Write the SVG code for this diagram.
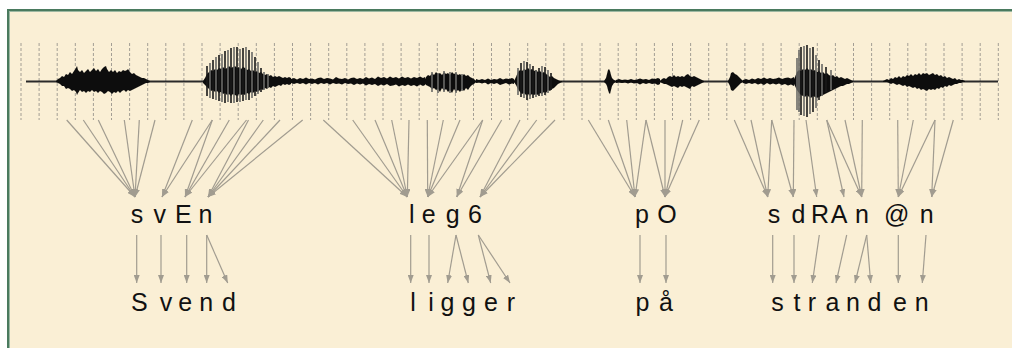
<svg xmlns="http://www.w3.org/2000/svg" width="1012" height="348" viewBox="0 0 1012 348">
<defs>
<style>
.lbl{font-family:"Liberation Sans",Arial,sans-serif;font-size:25px;fill:#111;text-anchor:middle}
.dash{stroke:#a39e94;stroke-width:1;stroke-dasharray:3,2;fill:none}
.conn line{stroke:#a19c90;stroke-width:1.2;marker-end:url(#ah)}
.wf{fill:#111}
.vs{stroke:#1a1a1a;stroke-width:1.6}
.vg{stroke:#6a6a66;stroke-width:1.6}
</style>
<marker id="ah" viewBox="0 0 8 6" refX="8" refY="3" markerWidth="8" markerHeight="6" markerUnits="userSpaceOnUse" orient="auto">
<path d="M0,0 L8,3 L0,6 z" fill="#a19c90"/>
</marker>
<filter id="soft" x="-5%" y="-20%" width="110%" height="140%"><feGaussianBlur stdDeviation="0.45"/></filter>
</defs>
<rect x="0" y="0" width="1012" height="348" fill="#fff"/>
<rect x="7" y="9" width="1020" height="360" fill="#faefd5"/>
<rect x="7" y="9" width="2" height="360" fill="#4a7a5e"/>
<rect x="9" y="11" width="1" height="360" fill="#9db8a2"/>
<rect x="7" y="9" width="1020" height="2" fill="#4a7a5e"/>
<rect x="9" y="11" width="1020" height="1" fill="#9db8a2"/>

<g id="frames">
<path class="dash" d="M21,43V120M39.1,43V120M57.2,43V120M75.3,43V120M93.4,43V120M111.5,43V120M129.6,43V120M147.7,43V120M165.8,43V120M183.9,43V120M202,43V120M220.1,43V120M238.2,43V120M256.3,43V120M274.4,43V120M292.5,43V120M310.6,43V120M328.7,43V120M346.8,43V120M364.9,43V120M383,43V120M401.1,43V120M419.2,43V120M437.3,43V120M455.4,43V120M473.5,43V120M491.5,43V120M509.6,43V120M527.7,43V120M545.8,43V120M563.9,43V120M582,43V120M600.1,43V120M618.2,43V120M636.3,43V120M654.4,43V120M672.5,43V120M690.6,43V120M708.7,43V120M726.8,43V120M744.9,43V120M763,43V120M781.1,43V120M799.2,43V120M817.3,43V120M835.4,43V120M853.5,43V120M871.6,43V120M889.7,43V120M907.8,43V120M925.9,43V120M944,43V120M962.1,43V120M980.2,43V120M998.3,43V120"/>
</g>

<g id="waveform" filter="url(#soft)">
<line x1="26" y1="81.5" x2="998" y2="81.5" stroke="#2a2a2a" stroke-width="2"/>
<polygon class="wf" points="56,81 58,79 60,78 62,76 64,77 66,74 68,75 70,72 72,74 74,71 76,68 77,66 78,70 80,72 82,70 84,73 86,71 88,69 90,72 92,70 94,68 96,71 98,69 100,72 102,69 104,67 106,66 107,69 109,72 111,70 113,72 115,70 117,73 119,71 121,72 123,70 125,71 127,70 128,69 130,72 132,74 134,73 136,75 138,76 140,77 142,78 144,78 146,79 148,80 150,81 150,82 148,83 146,83 144,84 142,85 140,86 138,87 136,88 134,89 132,90 130,91 128,90 126,92 124,90 122,91 120,93 118,91 116,93 114,92 112,94 110,92 108,91 106,93 104,94 102,92 100,91 98,93 96,91 94,92 92,90 90,92 88,91 86,93 84,91 82,92 80,90 78,93 77,95 76,92 74,90 72,91 70,89 68,88 66,89 64,86 62,86 60,84 58,83 56,82"/>
<polygon class="wf" points="203,81 205,78 207,74 209,72 211,70 213,71 215,69 217,70 219,68 221,69 223,67 225,69 227,68 229,66 231,68 233,67 235,66 237,68 239,67 241,69 243,67 245,68 247,70 249,69 251,71 253,70 255,72 257,71 259,73 261,72 263,74 265,75 267,74 269,76 271,75 273,77 275,76 277,77 279,76 281,77 283,78 285,77 287,78 289,77 291,78 291,84 289,85 287,84 285,85 283,84 281,86 279,85 277,86 275,87 273,86 271,88 269,87 267,89 265,88 263,90 261,89 259,91 257,92 255,91 253,93 251,92 249,94 247,93 245,95 243,94 241,95 239,94 237,96 235,95 233,94 231,96 229,94 227,95 225,93 223,94 221,92 219,93 217,91 215,92 213,90 211,91 209,89 207,87 205,85 203,83"/>
<path class="vs" d="M207,66V96M213,60V99M219,55V101M225,51V103M231,48V103M237,47V102M243,48V101M249,50V100M255,57V96M261,68V92"/>
<path class="vg" d="M210,63V98M216,57V100M222,54V102M228,50V102M234,47V103M240,49V102M246,47V100M252,52V98M258,62V94M264,72V90M268,74V88"/>
<polygon class="wf" points="291,79 294,78 297,79.5 300,78 303,79 306,77.5 309,79 312,78.5 315,79.5 318,78 321,77.5 324,79 327,78 330,78.5 333,79.5 336,77 339,78.5 342,79 345,78 348,79.5 351,78 354,77.5 357,79 360,78 363,79 366,77 369,78.5 372,77.5 375,79 378,76.5 381,78 384,77 387,78.5 390,76.5 393,78 396,77 399,78.5 402,76.5 405,78 408,77 411,78.5 414,77 417,78 420,76.5 423,78 425,77 425,85 423,86 420,84.5 417,86.5 414,85 411,86 408,84.5 405,86 402,85 399,86.5 396,84.5 393,85.5 390,86 387,84 384,85.5 381,84.5 378,86 375,84 372,85 369,84 366,85.5 363,83.5 360,84.5 357,83.5 354,85 351,83.5 348,84 345,83 342,84.5 339,83.5 336,84 333,83 330,84.5 327,83 324,84 321,83 318,84.5 315,83 312,84 309,83 306,84.5 303,83 300,84 297,83 294,84 291,83"/>
<polygon class="wf" points="424,81 426,77 428,75 430,76 432,73 434,75 436,72 438,74 440,73 442,75 444,72 446,74 448,73 450,75 452,72 454,74 456,73 458,75 460,74 462,76 464,74 466,76 468,75 470,77 472,78 474,79 476,81 476,82 474,84 472,85 470,87 468,90 466,88 464,91 462,89 460,92 458,90 456,92 454,89 452,93 450,90 448,92 446,89 444,91 442,88 440,92 438,89 436,90 434,88 432,89 430,87 428,86 426,85 424,83"/>
<path class="vg" d="M432,72V92M438,73V93M444,71V92M450,72V93M456,72V93M462,74V91"/>
<polygon class="wf" points="476,79 479,80 482,79 485,80 488,78.5 491,80 494,79 497,79.5 500,78 503,79.5 506,78.5 509,79 512,78 514,79 514,84 512,83.5 509,84.5 506,83 503,84 500,85 497,83 494,84 491,83 488,84.5 485,82.5 482,83.5 479,82.5 476,83"/>
<polygon class="wf" points="514,81 516,77 518,72 520,70 522,71 524,69 526,70 528,68 530,70 532,69 534,71 536,70 538,72 540,71 542,73 544,72 546,74 548,75 550,77 552,76 554,78 556,79 558,80 560,81 562,81 562,82 560,83 558,84 556,86 554,88 552,89 550,91 548,90 546,93 544,92 542,94 540,93 538,95 536,94 534,95 532,94 530,96 528,94 526,95 524,93 522,94 520,92 518,89 516,85 514,82"/>
<path class="vs" d="M521,63V97M527,62V100M533,66V98M539,68V96M545,67V95M551,73V90"/>
<path class="vg" d="M518,68V95M524,61V98M530,64V99M536,70V97M542,66V96M548,70V93"/>
<polygon class="wf" points="604,81 606,78 607,74 608,70 609,69 610,71 611,75 612,78 614,80 616,81 616,82 614,83 612,86 611,90 610,94 609,93 608,90 607,86 606,84 604,82"/>
<polygon class="wf" points="616,80 619,79 622,80 625,79.5 628,80 631,79 634,80 637,79.5 640,78.5 643,79.5 646,79 649,80 652,78.5 655,79 658,78 660,79 660,84 658,85 655,83.5 652,84 649,83 646,84 643,83 640,84.5 637,83 634,83.5 631,82.5 628,83.5 625,82.5 622,83 619,82.5 616,83"/>
<polygon class="wf" points="660,81 662,79 664,78 666,79 668,77 670,76 672,77 674,75 676,77 678,76 680,77 682,76 684,77 686,75 688,74 690,76 692,77 694,76 696,77 698,78 700,79 702,80 704,81 704,82 702,83 700,84 698,85 696,86 694,87 692,86 690,89 688,88 686,87 684,86 682,87 680,86 678,88 676,87 674,86 672,87 670,86 668,85 666,84 664,84 662,83 660,82"/>
<polygon class="wf" points="728,81 730,77 731,73 733,72 735,74 737,75 739,77 741,79 743,81 743,82 741,83 739,85 737,87 735,89 733,91 731,90 730,86 728,82"/>
<polygon class="wf" points="743,80 746,79 749,80 752,78.5 755,79.5 758,78 761,79 764,77.5 767,79 770,78 773,79 776,78.5 779,77.5 782,79 785,78 788,77.5 791,78.5 794,77 794,86 791,84.5 788,85.5 785,84 782,85 779,83.5 776,84.5 773,83.5 770,84.5 767,83 764,85 761,83.5 758,84.5 755,83 752,84 749,83 746,84 743,83"/>
<polygon class="wf" points="793,81 795,77 797,72 799,70 801,71 803,69 805,70 807,68 809,70 811,69 813,71 815,70 817,72 819,71 821,73 823,72 825,74 827,73 829,75 831,76 833,75 835,77 837,76 839,78 841,77 843,78 845,79 847,78 849,79 851,80 853,81 853,82 851,83 849,84 847,84 845,85 843,86 841,86 839,87 837,88 835,89 833,90 831,91 829,92 827,93 825,94 823,95 821,96 819,97 817,98 815,97 813,96 811,98 809,97 807,95 805,97 803,96 801,95 799,93 797,90 795,86 793,82"/>
<path class="vs" d="M801,47V115M807,45V117M813,47V112M819,60V100M826,67V92"/>
<path class="vg" d="M797,58V110M799,50V112M804,46V116M810,48V114M816,55V108M822,64V96M831,70V90"/>
<polygon class="wf" points="883,81 885,80 887,79 889,80 891,78 893,79 895,77 897,78 899,76 901,78 903,76 905,77 907,75 909,76 911,74 913,76 915,74 917,75 919,73 921,75 923,73 925,74 927,73 929,75 931,74 933,73 935,75 937,74 939,76 941,75 943,77 945,76 947,78 949,77 951,78 953,79 955,78 957,80 959,79 961,80 963,80 965,81 965,82 963,82 961,83 959,83 957,84 955,84 953,85 951,86 949,85 947,87 945,86 943,88 941,87 939,89 937,88 935,90 933,89 931,90 929,89 927,91 925,90 923,89 921,90 919,88 917,89 915,87 913,88 911,87 909,86 907,87 905,85 903,86 901,85 899,84 897,85 895,84 893,83 891,84 889,83 887,82 885,82 883,82"/>
</g>

<g id="connectors" class="conn">
<line x1="66.7" y1="120" x2="135" y2="197"/>
<line x1="83.3" y1="120" x2="135" y2="197"/>
<line x1="98.3" y1="120" x2="135" y2="197"/>
<line x1="124.3" y1="120" x2="135" y2="197"/>
<line x1="139.3" y1="120" x2="135" y2="197"/>
<line x1="155" y1="120" x2="135" y2="197"/>
<line x1="192.3" y1="120" x2="162" y2="197"/>
<line x1="212.3" y1="120" x2="162" y2="197"/>
<line x1="212.3" y1="120" x2="185" y2="197"/>
<line x1="229.3" y1="120" x2="185" y2="197"/>
<line x1="246.5" y1="120" x2="185" y2="197"/>
<line x1="248.5" y1="120" x2="208" y2="197"/>
<line x1="263.3" y1="120" x2="208" y2="197"/>
<line x1="280" y1="120" x2="208" y2="197"/>
<line x1="302.7" y1="120" x2="208" y2="197"/>
<line x1="323.3" y1="120" x2="407.3" y2="197"/>
<line x1="352.7" y1="120" x2="407.3" y2="197"/>
<line x1="375" y1="120" x2="407.3" y2="197"/>
<line x1="391.7" y1="120" x2="407.3" y2="197"/>
<line x1="409" y1="120" x2="407.3" y2="197"/>
<line x1="427.3" y1="120" x2="427.7" y2="197"/>
<line x1="443.3" y1="120" x2="427.7" y2="197"/>
<line x1="460" y1="120" x2="427.7" y2="197"/>
<line x1="482.7" y1="120" x2="427.7" y2="197"/>
<line x1="482.7" y1="120" x2="456.7" y2="197"/>
<line x1="501.7" y1="120" x2="456.7" y2="197"/>
<line x1="520" y1="120" x2="480" y2="197"/>
<line x1="536.7" y1="120" x2="480" y2="197"/>
<line x1="555" y1="120" x2="480" y2="197"/>
<line x1="588.3" y1="120" x2="635" y2="197"/>
<line x1="608.3" y1="120" x2="635" y2="197"/>
<line x1="626.7" y1="120" x2="635" y2="197"/>
<line x1="646" y1="120" x2="635" y2="197"/>
<line x1="646" y1="120" x2="665" y2="197"/>
<line x1="665" y1="120" x2="665" y2="197"/>
<line x1="682.7" y1="120" x2="665" y2="197"/>
<line x1="699.3" y1="120" x2="665" y2="197"/>
<line x1="734.3" y1="120" x2="767.7" y2="197"/>
<line x1="751" y1="120" x2="767.7" y2="197"/>
<line x1="771.7" y1="120" x2="767.7" y2="197"/>
<line x1="771.7" y1="120" x2="793.3" y2="197"/>
<line x1="794" y1="120" x2="793.3" y2="197"/>
<line x1="806" y1="120" x2="816.7" y2="197"/>
<line x1="826.7" y1="120" x2="844" y2="197"/>
<line x1="826.7" y1="120" x2="861.7" y2="197"/>
<line x1="845" y1="120" x2="861.7" y2="197"/>
<line x1="862.3" y1="120" x2="861.7" y2="197"/>
<line x1="897.7" y1="120" x2="898.3" y2="197"/>
<line x1="913.3" y1="120" x2="898.3" y2="197"/>
<line x1="935" y1="120" x2="898.3" y2="197"/>
<line x1="935" y1="120" x2="931.7" y2="197"/>
<line x1="953.3" y1="120" x2="931.7" y2="197"/>

<line x1="136.7" y1="235" x2="136.7" y2="283"/>
<line x1="161" y1="235" x2="161" y2="283"/>
<line x1="186.7" y1="235" x2="186.7" y2="283"/>
<line x1="206.7" y1="235" x2="206.7" y2="283"/>
<line x1="206.7" y1="235" x2="227.7" y2="283"/>
<line x1="410.7" y1="235" x2="410.7" y2="283"/>
<line x1="429" y1="235" x2="429" y2="283"/>
<line x1="456" y1="235" x2="447.7" y2="283"/>
<line x1="456" y1="235" x2="468.3" y2="283"/>
<line x1="478.3" y1="235" x2="490.7" y2="283"/>
<line x1="478.3" y1="235" x2="510" y2="283"/>
<line x1="640" y1="235" x2="640" y2="283"/>
<line x1="666" y1="235" x2="666" y2="283"/>
<line x1="772.7" y1="235" x2="772.7" y2="283"/>
<line x1="794" y1="235" x2="794" y2="283"/>
<line x1="819.3" y1="235" x2="812.3" y2="283"/>
<line x1="846.7" y1="235" x2="836" y2="283"/>
<line x1="866.7" y1="235" x2="855" y2="283"/>
<line x1="866.7" y1="235" x2="870.7" y2="283"/>
<line x1="898.3" y1="235" x2="898.3" y2="283"/>
<line x1="926" y1="235" x2="922.3" y2="283"/>
</g>

<g id="ph-sven"><text class="lbl" x="137 159.7 183.3 205.5" y="223">svEn</text></g>
<g id="ph-leg6"><text class="lbl" x="411.7 428.8 452.7 475" y="223">leg6</text></g>
<g id="ph-pO"><text class="lbl" x="642 667" y="223">pO</text></g>
<g id="ph-sdRAnan"><text class="lbl" x="774 798.5 820 839 862 896.7 926.7" y="223">sdRAn@n</text></g>

<g id="w-svend"><text class="lbl" x="139.3 166 185.3 206.3 229" y="310.7">Svend</text></g>
<g id="w-ligger"><text class="lbl" x="413 431 447.5 469 491 511" y="310.7">ligger</text></g>
<g id="w-pa"><text class="lbl" x="642.5 666" y="310.7">på</text></g>
<g id="w-stranden"><text class="lbl" x="777.5 797 812 832.5 853 874.5 900 921.7" y="310.7">stranden</text></g>
</svg>
